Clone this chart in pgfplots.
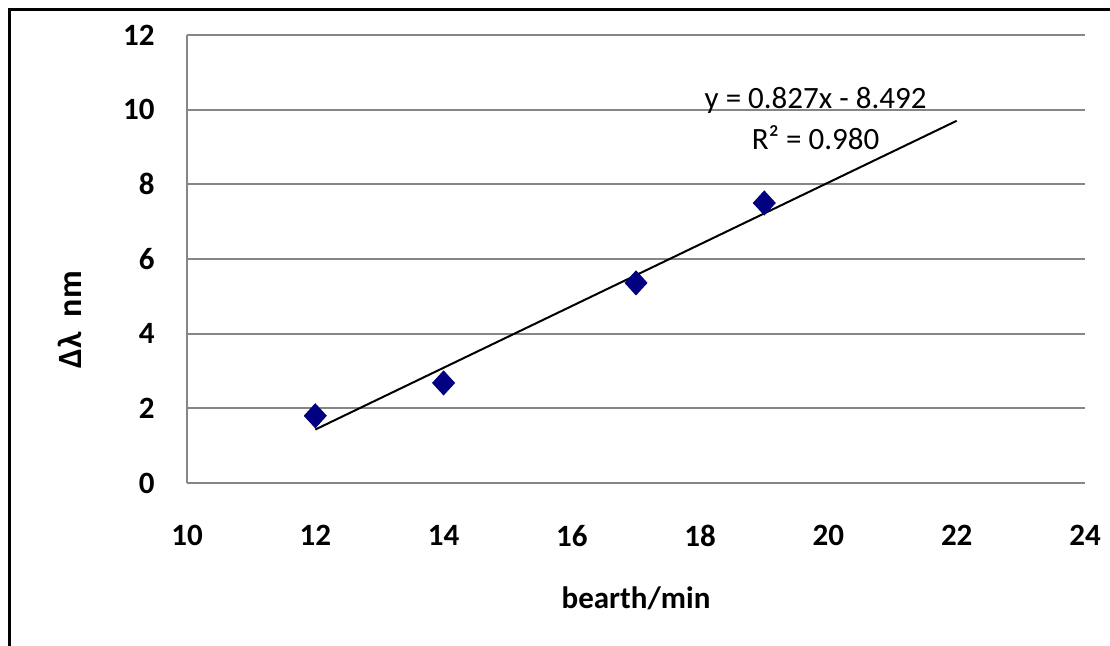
\documentclass[border=0pt]{standalone}
\usepackage{pgfplots}
\pgfplotsset{compat=1.18}
\usepackage{fontspec}
\setmainfont{Carlito}
\definecolor{navy}{RGB}{0,0,128}
\definecolor{gridgray}{RGB}{134,134,134}
\begin{document}
\fontsize{15.5}{18}\selectfont
\begin{tikzpicture}
\useasboundingbox (0,0) rectangle (555pt,323pt);
\draw[line width=1.5pt] (4.5pt,0) -- (4.5pt,318pt) -- (555pt,318pt);
\begin{axis}[
 scale only axis, width=449pt, height=224pt,
 at={(93.5pt,81.5pt)}, anchor=south west,
 xmin=10, xmax=24, ymin=0, ymax=12,
 xtick={10,12,...,24}, ytick={0,2,...,12},
 axis x line=bottom, axis y line=left,
 axis line style={gridgray, line width=1pt, -},
 ymajorgrids, grid style={gridgray, line width=1pt},
 major tick length=0pt,
 /pgf/number format/assume math mode=true,
 tick label style={font=\fontsize{15.5}{18}\selectfont\bfseries},
 yticklabel style={xshift=-10.8pt},
 xticklabel style={yshift=-15.8pt},
 xlabel={bearth/min}, ylabel={Δλ\ \ nm},
 label style={font=\fontsize{15.5}{18}\selectfont\bfseries},
 xlabel style={at={(axis description cs:0.5,-0.257)}, anchor=center},
 ylabel style={at={(axis description cs:-0.13,0.364)}, anchor=center, font=\fontsize{17}{19}\selectfont\bfseries},
 clip=false
]
\addplot[only marks, mark=diamond*, mark size=6pt, mark options={draw=navy, fill=navy, xscale=1.22}] coordinates {(12,1.8) (14,2.68) (17,5.36) (19,7.5)};
\addplot[black, line width=1pt] coordinates {(12,1.432) (22,9.702)};
\node[align=center, inner sep=0pt, font=\fontsize{15.5}{20.5}\selectfont] at (axis cs:19.8,9.76) {y = 0.827x - 8.492\\R² = 0.980};
\end{axis}
\end{tikzpicture}
\end{document}
